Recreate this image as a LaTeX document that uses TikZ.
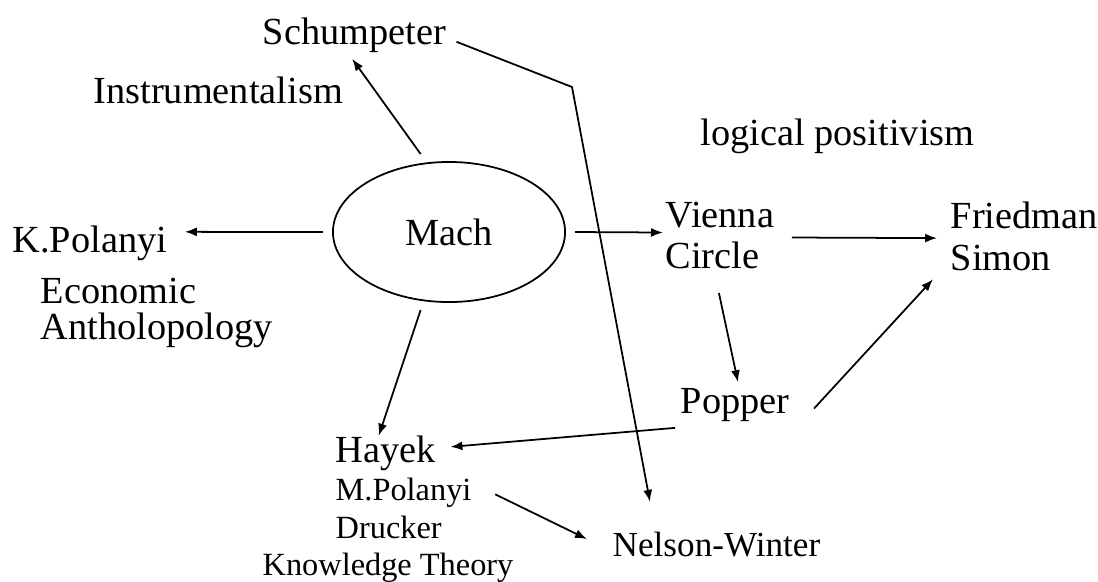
\documentclass[tikz,border=0pt]{standalone}
\usepackage{fontspec}
\setmainfont{Liberation Serif}
\usetikzlibrary{shapes.geometric, arrows.meta}

\tikzset{
  lbl/.style={inner sep=0, font=\fontsize{10.9}{11.4}\selectfont},
  lblsm/.style={inner sep=0, font=\fontsize{9.2}{10}\selectfont},
  link/.style={-{Latex[length=1.2mm, width=0.9mm]}, line width=0.5pt},
}

\begin{document}
\begin{tikzpicture}[x=0.01cm, y=-0.01cm]
    \useasboundingbox (0,0) rectangle (1098,581);

    % le noeud central
    \node[ellipse, draw, line width=0.5pt, minimum width=2.32cm, minimum height=1.4cm,
          inner sep=0, outer sep=0.1cm, font=\fontsize{10.9}{11.4}\selectfont]
      (mach) at (449,232) {Mach};

    \node[lbl, anchor=base west] (schump) at (262,44) {Schumpeter};
    \node[lbl, anchor=base west] (instr) at (93,103) {Instrumentalism};
    \node[lbl, anchor=base west] (logpos) at (700,145) {logical positivism};
    \node[lbl, anchor=base west] (kpol) at (12,252) {K.Polanyi};
    \node[lbl, anchor=north west, align=left, font=\fontsize{10.9}{10.4}\selectfont]
      (econ) at (40,277) {Economic\\Antholopology};
    \node[lbl, anchor=north west, align=left, font=\fontsize{10.9}{11.9}\selectfont]
      (vienna) at (665,201) {Vienna\\Circle};
    \node[lbl, anchor=north west, align=left, font=\fontsize{10.9}{11.9}\selectfont]
      (friedman) at (950,201) {Friedman\\Simon};
    \node[lbl, anchor=base west] (popper) at (680,413) {Popper};
    \node[lbl, anchor=base west] (hayek) at (335,462) {Hayek};
    \node[lblsm, anchor=base west] (mpol) at (335,500) {M.Polanyi};
    \node[lblsm, anchor=base west] (drucker) at (335,538) {Drucker};
    \node[lblsm, anchor=base west] (ktheory) at (262,575) {Knowledge Theory};
    \node[lbl, anchor=base west, font=\fontsize{10}{11}\selectfont] (nelson) at (612,556) {Nelson-Winter};

    % fleches
    \draw[link] (mach.110) -- ([shift={(-2,6)}]schump.south);
    \coordinate (kink) at (572,87);
    \draw[link] ([shift={(10,7)}]schump.east) -- (kink) -- ([shift={(38,-29)}]nelson.north west);
    \draw[link] (mach.west) -- ([shift={(17,-11)}]kpol.east);
    \draw[link] (mach.east) -- ([shift={(-2,-3)}]vienna.west);
    \draw[link] ([shift={(17,2)}]vienna.east) -- ([shift={(-13,2)}]friedman.west);
    \draw[link] ([shift={(-1,23)}]vienna.south) -- ([shift={(3,-5)}]popper.north);
    \draw[link] ([shift={(24,4)}]popper.east) -- ([shift={(-17,8)}]friedman.south west);
    \draw[link] ([shift={(-5,6)}]popper.south west) -- ([shift={(14,-6)}]hayek.east);
    \draw[link] (mach.250) -- ([shift={(-7,1)}]hayek.north);
    \draw[link] ([shift={(23,2)}]mpol.east) -- ([shift={(-25,-5)}]nelson.west);
\end{tikzpicture}
\end{document}
